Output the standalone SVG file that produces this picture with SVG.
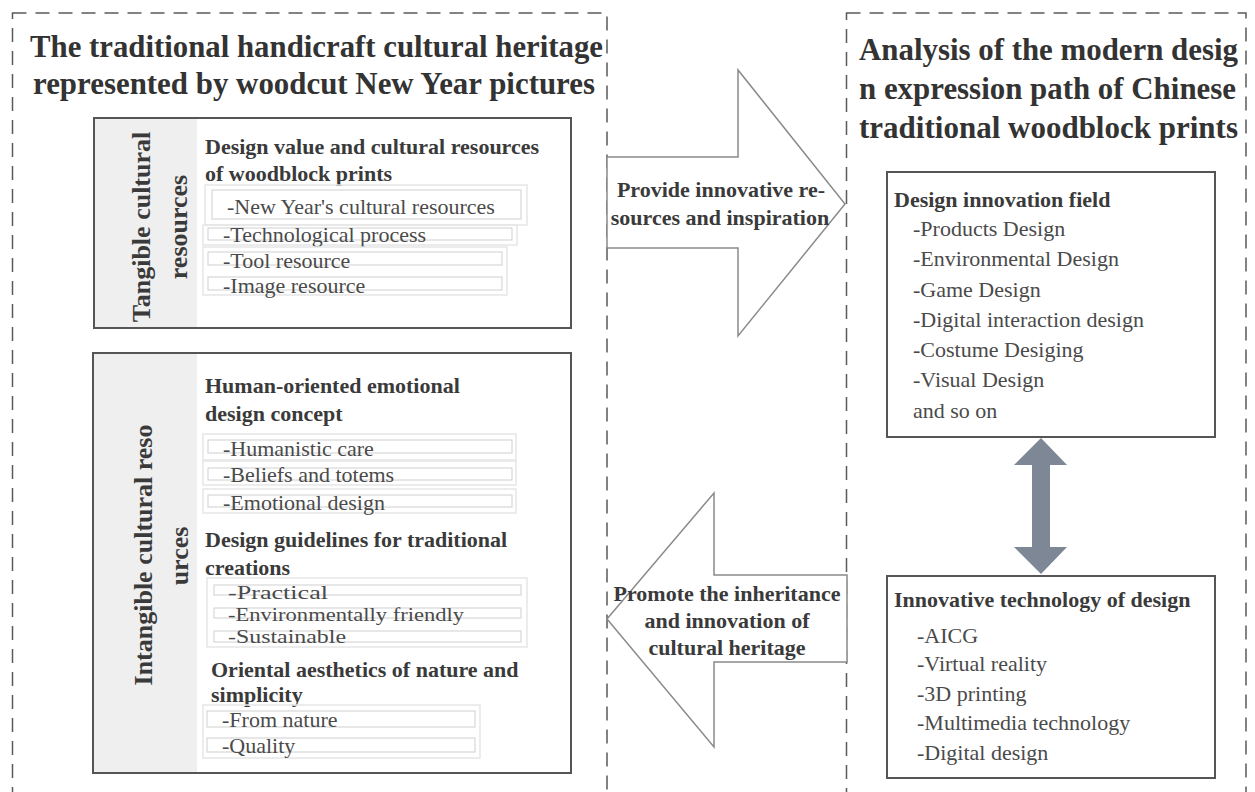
<svg xmlns="http://www.w3.org/2000/svg" width="1255" height="792" viewBox="0 0 1255 792">
<style>
  .dash { fill:none; stroke:#5a5a5a; stroke-width:1.5; stroke-dasharray:14 9; }
  .box { fill:#ffffff; stroke:#555555; stroke-width:2; }
  .band { fill:#efefef; }
  .title { font-family:"Liberation Serif", "Times New Roman", serif; font-weight:bold; font-size:31px; fill:#333333; }
  .rot { font-family:"Liberation Serif", "Times New Roman", serif; font-weight:bold; font-size:26px; fill:#3a3a3a; text-anchor:middle; }
  .hd { font-family:"Liberation Serif", "Times New Roman", serif; font-weight:bold; font-size:22px; fill:#3a3a3a; }
  .it { font-family:"Liberation Serif", "Times New Roman", serif; font-size:22px; fill:#4a4a4a; }
  .its { font-family:"Liberation Serif", "Times New Roman", serif; font-size:19px; fill:#4a4a4a; }
  .lbl { font-family:"Liberation Serif", "Times New Roman", serif; font-weight:bold; font-size:22px; fill:#3a3a3a; text-anchor:middle; }
  .ib { fill:none; stroke:#cfcfcf; stroke-width:1; }
  .ob { fill:none; stroke:#e6e6e6; stroke-width:1.5; }
  .arrow { fill:#ffffff; stroke:#8a8a8a; stroke-width:1.5; }
  .darrow { fill:#7d8795; }
</style>

<g id="left-container">
  <rect class="dash" x="12.5" y="13" width="594.5" height="800"/>
  <text class="title" x="30" y="57" textLength="573" lengthAdjust="spacingAndGlyphs">The traditional handicraft cultural heritage</text>
  <text class="title" x="33" y="94" textLength="562" lengthAdjust="spacingAndGlyphs">represented by woodcut New Year pictures</text>
</g>

<g id="right-container">
  <rect class="dash" x="846.5" y="13" width="399.5" height="800"/>
  <text class="title" x="859" y="60" textLength="379" lengthAdjust="spacingAndGlyphs">Analysis of the modern desig</text>
  <text class="title" x="859" y="99" textLength="377" lengthAdjust="spacingAndGlyphs">n expression path of Chinese</text>
  <text class="title" x="859" y="138" textLength="379" lengthAdjust="spacingAndGlyphs">traditional woodblock prints</text>
</g>

<g id="tangible">
  <rect class="box" x="94" y="118" width="477" height="210"/>
  <rect class="band" x="95" y="119" width="102" height="208"/>
  <text class="rot" transform="translate(150,227) rotate(-90)">Tangible cultural</text>
  <text class="rot" transform="translate(187,227) rotate(-90)">resources</text>
  <text class="hd" x="205" y="154">Design value and cultural resources</text>
  <text class="hd" x="205" y="181">of woodblock prints</text>
  <rect class="ob" x="205" y="185" width="322" height="40"/>
  <rect class="ib" x="212" y="190" width="309" height="29"/>
  <text class="it" x="227" y="214">-New Year's cultural resources</text>
  <rect class="ob" x="203" y="225" width="314" height="20"/>
  <rect class="ib" x="208" y="228" width="304" height="12"/>
  <text class="it" x="223" y="242">-Technological process</text>
  <rect class="ob" x="203" y="247" width="304" height="48"/>
  <rect class="ib" x="208" y="252" width="294" height="13"/>
  <text class="it" x="223" y="268">-Tool resource</text>
  <rect class="ib" x="208" y="277" width="294" height="13"/>
  <text class="it" x="223" y="293">-Image resource</text>
</g>

<g id="intangible">
  <rect class="box" x="93" y="353" width="478" height="420"/>
  <rect class="band" x="94" y="354" width="103" height="418"/>
  <text class="rot" transform="translate(152,555) rotate(-90)">Intangible cultural reso</text>
  <text class="rot" transform="translate(188,556) rotate(-90)">urces</text>
  <text class="hd" x="205" y="393">Human-oriented emotional</text>
  <text class="hd" x="205" y="421">design concept</text>
  <rect class="ob" x="203" y="434" width="313" height="26"/>
  <rect class="ib" x="208" y="440" width="304" height="13"/>
  <text class="it" x="223" y="456">-Humanistic care</text>
  <rect class="ob" x="203" y="461" width="313" height="24"/>
  <rect class="ib" x="208" y="468" width="304" height="12"/>
  <text class="it" x="223" y="482">-Beliefs and totems</text>
  <rect class="ob" x="203" y="489" width="313" height="24"/>
  <rect class="ib" x="208" y="495" width="304" height="12"/>
  <text class="it" x="223" y="510">-Emotional design</text>
  <text class="hd" x="205" y="547">Design guidelines for traditional</text>
  <text class="hd" x="205" y="575">creations</text>
  <rect class="ob" x="207" y="578" width="320" height="69"/>
  <rect class="ib" x="214" y="585" width="307" height="10"/>
  <text class="its" x="228" y="599" textLength="100" lengthAdjust="spacingAndGlyphs">-Practical</text>
  <rect class="ib" x="214" y="608" width="307" height="10"/>
  <text class="its" x="228" y="621" textLength="236" lengthAdjust="spacingAndGlyphs">-Environmentally friendly</text>
  <rect class="ib" x="214" y="631" width="307" height="11"/>
  <text class="its" x="228" y="643" textLength="118" lengthAdjust="spacingAndGlyphs">-Sustainable</text>
  <text class="hd" x="211" y="677">Oriental aesthetics of nature and</text>
  <text class="hd" x="211" y="702">simplicity</text>
  <rect class="ob" x="203" y="705" width="277" height="53"/>
  <rect class="ib" x="207" y="711" width="268" height="16"/>
  <text class="it" x="222" y="727">-From nature</text>
  <rect class="ib" x="207" y="738" width="268" height="14"/>
  <text class="it" x="222" y="753">-Quality</text>
</g>

<g id="innovation-field">
  <rect class="box" x="887" y="172" width="328" height="265"/>
  <text class="hd" x="894" y="207">Design innovation field</text>
  <text class="it" x="913" y="236">-Products Design</text>
  <text class="it" x="913" y="266">-Environmental Design</text>
  <text class="it" x="913" y="297">-Game Design</text>
  <text class="it" x="913" y="327">-Digital interaction design</text>
  <text class="it" x="913" y="357">-Costume Desiging</text>
  <text class="it" x="913" y="387">-Visual Design</text>
  <text class="it" x="913" y="418">and so on</text>
</g>

<g id="innovation-technology">
  <rect class="box" x="887" y="576" width="328" height="202"/>
  <text class="hd" x="894" y="607">Innovative technology of design</text>
  <text class="it" x="917" y="643">-AICG</text>
  <text class="it" x="917" y="671">-Virtual reality</text>
  <text class="it" x="917" y="701">-3D printing</text>
  <text class="it" x="917" y="730">-Multimedia technology</text>
  <text class="it" x="917" y="760">-Digital design</text>
</g>

<g id="connectors">
  <g id="arrow-provide">
    <polygon class="arrow" points="607,157 738,157 738,70 845,204 738,336 738,248 607,248"/>
    <text class="lbl" x="721" y="197">Provide innovative re-</text>
    <text class="lbl" x="720" y="225">sources and inspiration</text>
  </g>
  <g id="arrow-promote">
    <polygon class="arrow" points="607,619 714,493 714,575 847,575 847,662 714,662 714,747"/>
    <text class="lbl" x="727" y="601">Promote the inheritance</text>
    <text class="lbl" x="727" y="628">and innovation of</text>
    <text class="lbl" x="727" y="655">cultural heritage</text>
  </g>
  <g id="arrow-both">
    <polygon class="darrow" points="1041,438 1067,465 1050,465 1050,547 1067,547 1041,574 1014,547 1032,547 1032,465 1014,465"/>
  </g>
</g>
</svg>
